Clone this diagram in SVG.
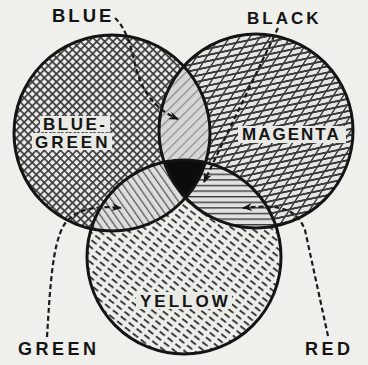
<svg xmlns="http://www.w3.org/2000/svg" width="368" height="365" viewBox="0 0 368 365">
<style>
.lbl{font-family:"Liberation Sans",Arial,sans-serif;font-weight:bold;fill:#141414}
.ring{fill:none;stroke:#141414;stroke-width:3}
.conn{fill:none;stroke:#1a1a1a;stroke-width:2.2;stroke-dasharray:5 3;marker-end:url(#arr)}
.clear{fill:#e9e9e5}
</style>
<defs>
<marker id="arr" viewBox="0 0 10 8" refX="9" refY="4" markerWidth="11" markerHeight="8" markerUnits="userSpaceOnUse" orient="auto">
<path d="M0,0 L10,4 L0,8 L3,4 z" fill="#141414"/>
</marker>
<pattern id="pBG" width="5.7" height="5.7" patternUnits="userSpaceOnUse" patternTransform="rotate(45)">
<rect width="5.7" height="5.7" fill="#3c3c3c"/>
<rect x="1.7" y="1.7" width="4" height="4" fill="#ececec"/>
</pattern>
<pattern id="pM" width="12" height="6" patternUnits="userSpaceOnUse" patternTransform="rotate(-12) skewX(-45)">
<rect width="12" height="6" fill="#3c3c3c"/>
<rect x="2" y="2" width="10" height="4" fill="#e6e6e6"/>
</pattern>
<pattern id="pY" width="10" height="6" patternUnits="userSpaceOnUse" patternTransform="rotate(38)">
<rect width="10" height="6" fill="#ededea"/>
<rect x="0" y="0" width="6.5" height="1.8" fill="#2c2c2c"/>
</pattern>
<pattern id="pBlue" width="7" height="7" patternUnits="userSpaceOnUse" patternTransform="rotate(45)">
<rect width="7" height="7" fill="#d6d6d4"/>
<rect width="1.2" height="7" fill="#8a8a8a"/>
</pattern>
<pattern id="pGreen" width="6" height="6" patternUnits="userSpaceOnUse" patternTransform="rotate(-35)">
<rect width="6" height="6" fill="#dedede"/>
<rect width="1.3" height="6" fill="#5a5a5a"/>
</pattern>
<pattern id="pRed" width="6" height="5.6" patternUnits="userSpaceOnUse">
<rect width="6" height="5.6" fill="#e2e2e2"/>
<rect width="6" height="1.4" fill="#3a3a3a"/>
</pattern>
<clipPath id="cBG"><circle cx="112" cy="133" r="98"/></clipPath>
<clipPath id="cM"><circle cx="256" cy="131" r="97"/></clipPath>
<clipPath id="cY"><circle cx="184" cy="257" r="97"/></clipPath>
</defs>
<rect width="368" height="365" fill="#efefeb"/>
<g id="blue-green">
<circle cx="112" cy="133" r="98" fill="url(#pBG)"/>
</g>
<g id="magenta">
<circle cx="256" cy="131" r="97" fill="url(#pM)"/>
</g>
<g id="yellow">
<circle cx="184" cy="257" r="97" fill="url(#pY)"/>
</g>
<g id="blue">
<g clip-path="url(#cBG)"><circle cx="256" cy="131" r="97" fill="url(#pBlue)"/></g>
</g>
<g id="green">
<g clip-path="url(#cBG)"><circle cx="184" cy="257" r="97" fill="url(#pGreen)"/></g>
</g>
<g id="red">
<g clip-path="url(#cM)"><circle cx="184" cy="257" r="97" fill="url(#pRed)"/></g>
</g>
<g id="black">
<g clip-path="url(#cBG)"><g clip-path="url(#cM)"><circle cx="184" cy="257" r="97" fill="#0c0c0c"/></g></g>
</g>
<g id="outlines">
<circle class="ring" cx="112" cy="133" r="98"/>
<circle class="ring" cx="256" cy="131" r="97"/>
<circle class="ring" cx="184" cy="257" r="97"/>
</g>
<g id="label-backs">
<rect class="clear" x="40" y="116" width="70" height="16"/>
<rect class="clear" x="32" y="133" width="80" height="17"/>
<rect class="clear" x="238" y="126" width="108" height="17"/>
<rect class="clear" x="136" y="292" width="96" height="17"/>
</g>
<g id="connectors">
<path class="conn" d="M115,18 C124,26 130,42 134,60 C140,88 152,108 178,119"/>
<path class="conn" d="M278,28 L204,182"/>
<path class="conn" d="M47,337 C50,290 52,245 64,225 C74,210 94,205 121,208"/>
<path class="conn" d="M328,336 L305,230 C298,212 285,203 243,208"/>
</g>
<g id="labels">
<text class="lbl" x="52" y="22" font-size="18.5" letter-spacing="3">BLUE</text>
<text class="lbl" x="247" y="24" font-size="17" letter-spacing="3">BLACK</text>
<text class="lbl" font-size="17" letter-spacing="2.5"><tspan x="43" y="130">BLUE-</tspan><tspan x="35" y="148" letter-spacing="3">GREEN</tspan></text>
<text class="lbl" x="242" y="140" font-size="17" letter-spacing="2">MAGENTA</text>
<text class="lbl" x="140" y="307" font-size="17" letter-spacing="3">YELLOW</text>
<text class="lbl" x="18" y="355" font-size="18" letter-spacing="3.5">GREEN</text>
<text class="lbl" x="305" y="355" font-size="18" letter-spacing="3.5">RED</text>
</g>
</svg>
